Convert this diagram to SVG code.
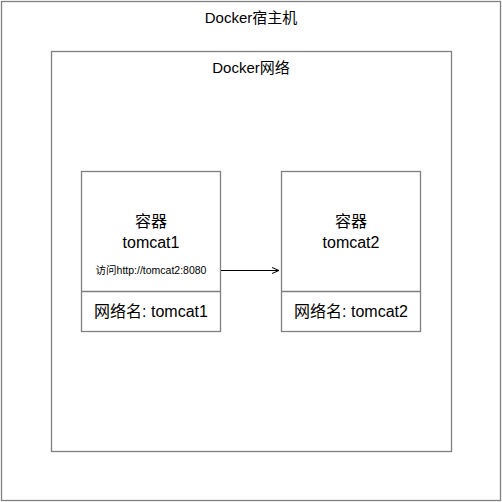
<svg xmlns="http://www.w3.org/2000/svg" width="502" height="502" viewBox="0 0 502 502">
<defs>
<style>
.box{fill:#fff;stroke:#808080;stroke-width:1.3}
.t{font-family:"Liberation Sans","Noto Sans CJK SC",sans-serif;fill:#000;text-anchor:middle}
.l{font-size:15px}
.m{font-size:16px}
.s{font-size:10.5px}
.conn{stroke:#000;stroke-width:1;fill:none}
</style>
<marker id="ah" markerWidth="10" markerHeight="10" refX="8" refY="4" orient="auto" markerUnits="userSpaceOnUse">
<path d="M1,1 L8,4 L1,7" fill="none" stroke="#000" stroke-width="1"/>
</marker>
</defs>
<rect width="502" height="502" fill="#fff"/>
<g id="host">
<rect class="box" x="1.5" y="1.5" width="499" height="499"/>
<text class="t l" x="251" y="23">Docker宿主机</text>
</g>
<g id="network">
<rect class="box" x="51.5" y="51.5" width="400" height="400"/>
<text class="t l" x="251" y="73">Docker网络</text>
</g>
<g id="tomcat1">
<rect class="box" x="81.5" y="171.5" width="139" height="160"/>
<line x1="81.5" y1="291.5" x2="220.5" y2="291.5" stroke="#808080" stroke-width="1.3"/>
<text class="t m" x="151" y="227">容器</text>
<text class="t m" x="151" y="248">tomcat1</text>
<text class="t s" x="151" y="274">访问http://tomcat2:8080</text>
<text class="t m" x="151" y="317">网络名: tomcat1</text>
</g>
<g id="tomcat2">
<rect class="box" x="281.5" y="171.5" width="139" height="160"/>
<line x1="281.5" y1="291.5" x2="420.5" y2="291.5" stroke="#808080" stroke-width="1.3"/>
<text class="t m" x="351" y="227">容器</text>
<text class="t m" x="351" y="248">tomcat2</text>
<text class="t m" x="351" y="317">网络名: tomcat2</text>
</g>
<g id="connectors">
<path class="conn" d="M221,270.5 L279,270.5" marker-end="url(#ah)"/>
</g>
</svg>
